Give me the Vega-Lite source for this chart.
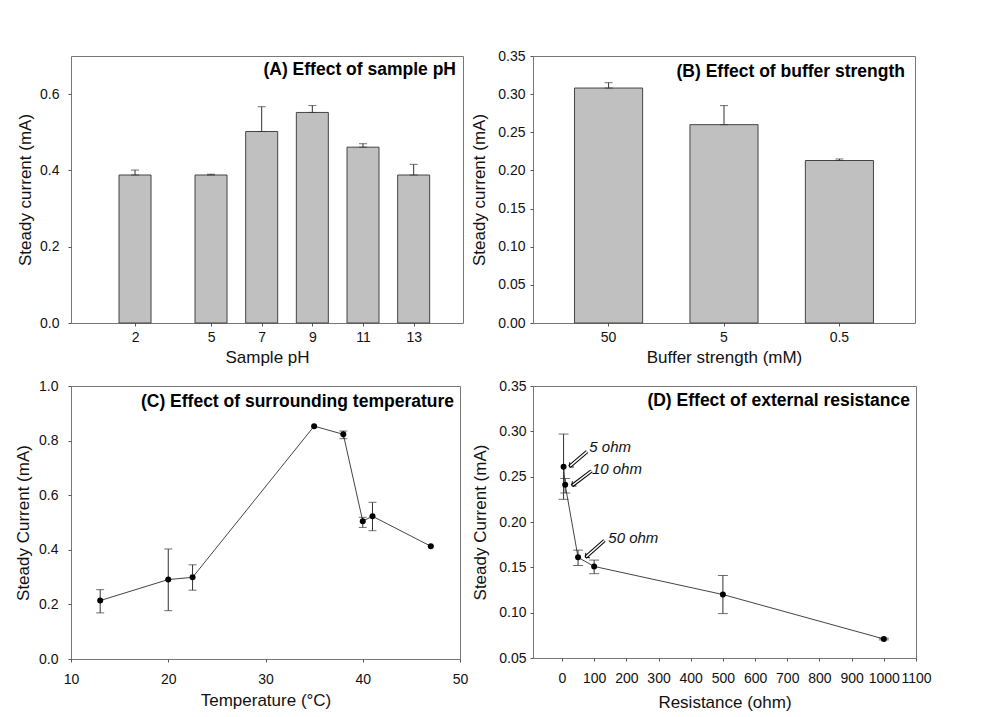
{
  "$schema": "https://vega.github.io/schema/vega-lite/v6.json",
  "background": "white",
  "padding": {"left": 14, "top": 48, "right": 5, "bottom": 5},
  "columns": 2,
  "bounds": "flush",
  "spacing": {"row": 63, "column": 70},
  "config": {
    "font": "Liberation Sans",
    "view": {"stroke": "#777", "strokeWidth": 1},
    "axis": {
      "grid": false, "domain": false, "tickSize": 3, "tickColor": "#555",
      "labelFontSize": 14, "labelColor": "#111", "labelFlush": false, "labelOverlap": false,
      "titleFontSize": 17, "titleFontWeight": "normal", "titleColor": "#111"
    },
    "title": {"fontSize": 17.5, "fontWeight": "bold", "anchor": "end", "frame": "group", "color": "#000"}
  },
  "concat": [
    {
      "width": 392, "height": 267,
      "title": {"text": "(A) Effect of sample pH", "offset": -22, "dx": -7},
      "data": {"values": [
        {"pH": 2, "current": 0.388, "upper": 0.401},
        {"pH": 5, "current": 0.388, "upper": 0.390},
        {"pH": 7, "current": 0.502, "upper": 0.567},
        {"pH": 9, "current": 0.552, "upper": 0.570},
        {"pH": 11, "current": 0.461, "upper": 0.470},
        {"pH": 13, "current": 0.388, "upper": 0.416}
      ]},
      "layer": [
        {
          "mark": {"type": "bar", "size": 32, "fill": "#c0c0c0", "stroke": "#444", "strokeWidth": 1},
          "encoding": {
            "x": {"field": "pH", "type": "quantitative", "title": "Sample pH", "scale": {"domain": [-0.33, 14.75]},
                  "axis": {"values": [2, 5, 7, 9, 11, 13], "format": "d", "labelPadding": 4, "titlePadding": 5}},
            "y": {"field": "current", "type": "quantitative", "title": "Steady current (mA)", "scale": {"domain": [0, 0.7]},
                  "axis": {"values": [0, 0.2, 0.4, 0.6], "format": ".1f", "labelPadding": 9, "titlePadding": 5}}
          }
        },
        {
          "mark": {"type": "errorbar", "color": "#333", "ticks": {"size": 8}},
          "encoding": {
            "x": {"field": "pH", "type": "quantitative", "title": "Sample pH", "scale": {"domain": [-0.33, 14.75]},
                  "axis": {"values": [2, 5, 7, 9, 11, 13], "format": "d", "labelPadding": 4, "titlePadding": 5}},
            "y": {"field": "current", "type": "quantitative", "title": "Steady current (mA)", "scale": {"domain": [0, 0.7]},
                  "axis": {"values": [0, 0.2, 0.4, 0.6], "format": ".1f", "labelPadding": 9, "titlePadding": 5}},
            "y2": {"field": "upper"}
          }
        }
      ]
    },
    {
      "width": 382, "height": 267,
      "title": {"text": "(B) Effect of buffer strength", "offset": -31, "dx": -10},
      "data": {"values": [
        {"strength": "50", "current": 0.308, "upper": 0.315},
        {"strength": "5", "current": 0.260, "upper": 0.285},
        {"strength": "0.5", "current": 0.213, "upper": 0.215}
      ]},
      "layer": [
        {
          "mark": {"type": "bar", "fill": "#c0c0c0", "stroke": "#444", "strokeWidth": 1},
          "encoding": {
            "x": {"field": "strength", "type": "nominal", "sort": null, "title": "Buffer strength (mM)", "scale": {"paddingInner": 0.41, "paddingOuter": 0.36},
                  "axis": {"labelAngle": 0, "labelPadding": 4, "titlePadding": 5}},
            "y": {"field": "current", "type": "quantitative", "title": "Steady current (mA)", "scale": {"domain": [0, 0.35]},
                  "axis": {"values": [0, 0.05, 0.1, 0.15, 0.2, 0.25, 0.3, 0.35], "format": ".2f", "labelPadding": 5, "titlePadding": 9}}
          }
        },
        {
          "mark": {"type": "errorbar", "color": "#333", "ticks": {"size": 8}},
          "encoding": {
            "x": {"field": "strength", "type": "nominal", "sort": null, "title": "Buffer strength (mM)", "scale": {"paddingInner": 0.41, "paddingOuter": 0.36},
                  "axis": {"labelAngle": 0, "labelPadding": 4, "titlePadding": 5}},
            "y": {"field": "current", "type": "quantitative", "title": "Steady current (mA)", "scale": {"domain": [0, 0.35]},
                  "axis": {"values": [0, 0.05, 0.1, 0.15, 0.2, 0.25, 0.3, 0.35], "format": ".2f", "labelPadding": 5, "titlePadding": 9}},
            "y2": {"field": "upper"}
          }
        }
      ]
    },
    {
      "width": 389, "height": 273,
      "title": {"text": "(C) Effect of surrounding temperature", "offset": -31, "dx": -6},
      "data": {"values": [
        {"temp": 13, "current": 0.214, "lo": 0.169, "hi": 0.254},
        {"temp": 20, "current": 0.291, "lo": 0.177, "hi": 0.403},
        {"temp": 22.5, "current": 0.299, "lo": 0.252, "hi": 0.345},
        {"temp": 35, "current": 0.853, "lo": null, "hi": null},
        {"temp": 38, "current": 0.823, "lo": 0.807, "hi": 0.835},
        {"temp": 40, "current": 0.505, "lo": 0.482, "hi": 0.519},
        {"temp": 41, "current": 0.523, "lo": 0.470, "hi": 0.574},
        {"temp": 47, "current": 0.413, "lo": null, "hi": null}
      ]},
      "layer": [
        {
          "mark": {"type": "line", "color": "#444", "strokeWidth": 1},
          "encoding": {
            "x": {"field": "temp", "type": "quantitative", "title": "Temperature (°C)", "scale": {"domain": [10, 50]},
                  "axis": {"values": [10, 20, 30, 40, 50], "format": "d", "labelPadding": 10, "titlePadding": 6}},
            "y": {"field": "current", "type": "quantitative", "title": "Steady Current (mA)", "scale": {"domain": [0, 1]},
                  "axis": {"values": [0, 0.2, 0.4, 0.6, 0.8, 1.0], "format": ".1f", "labelPadding": 10, "titlePadding": 6}}
          }
        },
        {
          "transform": [{"filter": "isValid(datum.lo)"}],
          "mark": {"type": "errorbar", "color": "#333", "ticks": {"size": 8}},
          "encoding": {
            "x": {"field": "temp", "type": "quantitative", "title": "Temperature (°C)", "scale": {"domain": [10, 50]},
                  "axis": {"values": [10, 20, 30, 40, 50], "format": "d", "labelPadding": 10, "titlePadding": 6}},
            "y": {"field": "lo", "type": "quantitative", "title": "Steady Current (mA)", "scale": {"domain": [0, 1]},
                  "axis": {"values": [0, 0.2, 0.4, 0.6, 0.8, 1.0], "format": ".1f", "labelPadding": 10, "titlePadding": 6}},
            "y2": {"field": "hi"}
          }
        },
        {
          "mark": {"type": "point", "filled": true, "color": "#000", "size": 36, "opacity": 1},
          "encoding": {
            "x": {"field": "temp", "type": "quantitative", "title": "Temperature (°C)", "scale": {"domain": [10, 50]},
                  "axis": {"values": [10, 20, 30, 40, 50], "format": "d", "labelPadding": 10, "titlePadding": 6}},
            "y": {"field": "current", "type": "quantitative", "title": "Steady Current (mA)", "scale": {"domain": [0, 1]},
                  "axis": {"values": [0, 0.2, 0.4, 0.6, 0.8, 1.0], "format": ".1f", "labelPadding": 10, "titlePadding": 6}}
          }
        }
      ]
    },
    {
      "width": 383, "height": 272,
      "title": {"text": "(D) Effect of external resistance", "offset": -30, "dx": -6},
      "layer": [
        {
          "data": {"values": [
            {"ohm": 5, "current": 0.261},
            {"ohm": 10, "current": 0.241},
            {"ohm": 50, "current": 0.161},
            {"ohm": 100, "current": 0.151},
            {"ohm": 500, "current": 0.120},
            {"ohm": 1000, "current": 0.071}
          ]},
          "mark": {"type": "line", "color": "#444", "strokeWidth": 1},
          "encoding": {
            "x": {"field": "ohm", "type": "quantitative", "title": "Resistance (ohm)", "scale": {"domain": [-90, 1100]},
                  "axis": {"values": [0, 100, 200, 300, 400, 500, 600, 700, 800, 900, 1000, 1100], "format": "d", "labelPadding": 10, "titlePadding": 9}},
            "y": {"field": "current", "type": "quantitative", "title": "Steady Current (mA)", "scale": {"domain": [0.05, 0.35]},
                  "axis": {"values": [0.05, 0.1, 0.15, 0.2, 0.25, 0.3, 0.35], "format": ".2f", "labelPadding": 4, "titlePadding": 9}}
          }
        },
        {
          "data": {"values": [
            {"ohm": 5, "lo": 0.225, "hi": 0.297},
            {"ohm": 10, "lo": 0.232, "hi": 0.248},
            {"ohm": 50, "lo": 0.152, "hi": 0.169},
            {"ohm": 100, "lo": 0.143, "hi": 0.158},
            {"ohm": 500, "lo": 0.099, "hi": 0.141},
            {"ohm": 1000, "lo": 0.0700, "hi": 0.0718}
          ]},
          "mark": {"type": "errorbar", "color": "#333", "ticks": {"size": 10}},
          "encoding": {
            "x": {"field": "ohm", "type": "quantitative", "title": "Resistance (ohm)", "scale": {"domain": [-90, 1100]},
                  "axis": {"values": [0, 100, 200, 300, 400, 500, 600, 700, 800, 900, 1000, 1100], "format": "d", "labelPadding": 10, "titlePadding": 9}},
            "y": {"field": "lo", "type": "quantitative", "title": "Steady Current (mA)", "scale": {"domain": [0.05, 0.35]},
                  "axis": {"values": [0.05, 0.1, 0.15, 0.2, 0.25, 0.3, 0.35], "format": ".2f", "labelPadding": 4, "titlePadding": 9}},
            "y2": {"field": "hi"}
          }
        },
        {
          "data": {"values": [
            {"ohm": 5, "current": 0.261},
            {"ohm": 10, "current": 0.241},
            {"ohm": 50, "current": 0.161},
            {"ohm": 100, "current": 0.151},
            {"ohm": 500, "current": 0.120},
            {"ohm": 1000, "current": 0.071}
          ]},
          "mark": {"type": "point", "filled": true, "color": "#000", "size": 36, "opacity": 1},
          "encoding": {
            "x": {"field": "ohm", "type": "quantitative", "title": "Resistance (ohm)", "scale": {"domain": [-90, 1100]},
                  "axis": {"values": [0, 100, 200, 300, 400, 500, 600, 700, 800, 900, 1000, 1100], "format": "d", "labelPadding": 10, "titlePadding": 9}},
            "y": {"field": "current", "type": "quantitative", "title": "Steady Current (mA)", "scale": {"domain": [0.05, 0.35]},
                  "axis": {"values": [0.05, 0.1, 0.15, 0.2, 0.25, 0.3, 0.35], "format": ".2f", "labelPadding": 4, "titlePadding": 9}}
          }
        },
        {
          "data": {"values": [
            {"x0": 78, "y0": 0.2776, "x1": 23, "y1": 0.261},
            {"x0": 92, "y0": 0.2564, "x1": 31, "y1": 0.240},
            {"x0": 132, "y0": 0.1796, "x1": 73, "y1": 0.161}
          ]},
          "mark": {"type": "rule", "color": "#000", "strokeWidth": 3.5},
          "encoding": {
            "x": {"field": "x0", "type": "quantitative", "title": "Resistance (ohm)", "scale": {"domain": [-90, 1100]},
                  "axis": {"values": [0, 100, 200, 300, 400, 500, 600, 700, 800, 900, 1000, 1100], "format": "d", "labelPadding": 10, "titlePadding": 9}},
            "y": {"field": "y0", "type": "quantitative", "title": "Steady Current (mA)", "scale": {"domain": [0.05, 0.35]},
                  "axis": {"values": [0.05, 0.1, 0.15, 0.2, 0.25, 0.3, 0.35], "format": ".2f", "labelPadding": 4, "titlePadding": 9}},
            "x2": {"field": "x1"},
            "y2": {"field": "y1"}
          }
        },
        {
          "data": {"values": [
            {"x0": 78, "y0": 0.2776, "x1": 23, "y1": 0.261},
            {"x0": 92, "y0": 0.2564, "x1": 31, "y1": 0.240},
            {"x0": 132, "y0": 0.1796, "x1": 73, "y1": 0.161}
          ]},
          "mark": {"type": "rule", "color": "#fff", "strokeWidth": 1.5},
          "encoding": {
            "x": {"field": "x0", "type": "quantitative", "title": "Resistance (ohm)", "scale": {"domain": [-90, 1100]},
                  "axis": {"values": [0, 100, 200, 300, 400, 500, 600, 700, 800, 900, 1000, 1100], "format": "d", "labelPadding": 10, "titlePadding": 9}},
            "y": {"field": "y0", "type": "quantitative", "title": "Steady Current (mA)", "scale": {"domain": [0.05, 0.35]},
                  "axis": {"values": [0.05, 0.1, 0.15, 0.2, 0.25, 0.3, 0.35], "format": ".2f", "labelPadding": 4, "titlePadding": 9}},
            "x2": {"field": "x1"},
            "y2": {"field": "y1"}
          }
        },
        {
          "data": {"values": [
            {"x1": 23, "y1": 0.261},
            {"x1": 31, "y1": 0.240},
            {"x1": 73, "y1": 0.161}
          ]},
          "mark": {"type": "point", "shape": "M-1,1L0,0L1,1", "filled": false, "stroke": "#000", "strokeWidth": 1, "size": 40, "angle": 230, "opacity": 1},
          "encoding": {
            "x": {"field": "x1", "type": "quantitative", "title": "Resistance (ohm)", "scale": {"domain": [-90, 1100]},
                  "axis": {"values": [0, 100, 200, 300, 400, 500, 600, 700, 800, 900, 1000, 1100], "format": "d", "labelPadding": 10, "titlePadding": 9}},
            "y": {"field": "y1", "type": "quantitative", "title": "Steady Current (mA)", "scale": {"domain": [0.05, 0.35]},
                  "axis": {"values": [0.05, 0.1, 0.15, 0.2, 0.25, 0.3, 0.35], "format": ".2f", "labelPadding": 4, "titlePadding": 9}}
          }
        },
        {
          "data": {"values": [
            {"ohm": 85, "current": 0.283, "label": "5 ohm"},
            {"ohm": 93, "current": 0.2586, "label": "10 ohm"},
            {"ohm": 144, "current": 0.1826, "label": "50 ohm"}
          ]},
          "mark": {"type": "text", "align": "left", "baseline": "middle", "fontStyle": "italic", "fontSize": 15, "color": "#111"},
          "encoding": {
            "x": {"field": "ohm", "type": "quantitative", "title": "Resistance (ohm)", "scale": {"domain": [-90, 1100]},
                  "axis": {"values": [0, 100, 200, 300, 400, 500, 600, 700, 800, 900, 1000, 1100], "format": "d", "labelPadding": 10, "titlePadding": 9}},
            "y": {"field": "current", "type": "quantitative", "title": "Steady Current (mA)", "scale": {"domain": [0.05, 0.35]},
                  "axis": {"values": [0.05, 0.1, 0.15, 0.2, 0.25, 0.3, 0.35], "format": ".2f", "labelPadding": 4, "titlePadding": 9}},
            "text": {"field": "label"}
          }
        }
      ]
    }
  ]
}
